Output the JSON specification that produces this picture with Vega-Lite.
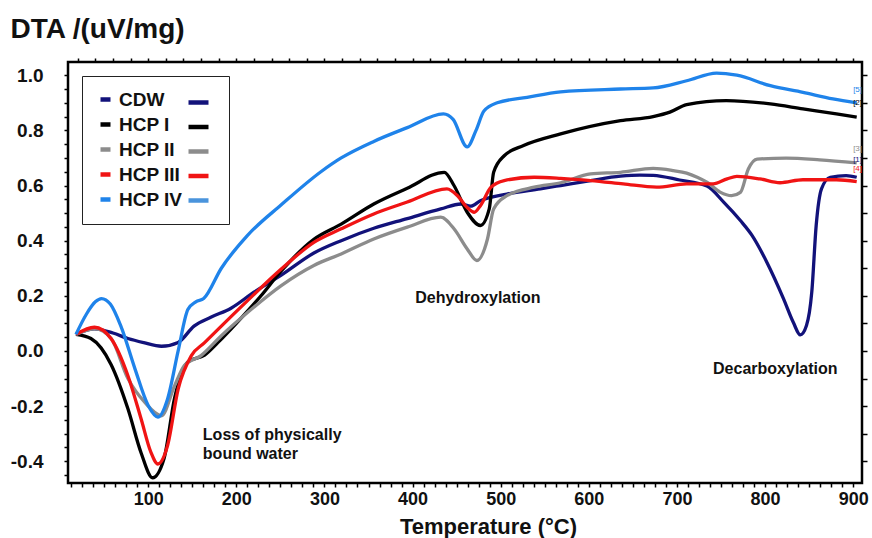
{
  "$schema": "https://vega.github.io/schema/vega-lite/v6.json",
  "width": 794,
  "height": 421,
  "autosize": {"type": "none"},
  "padding": {"left": 68, "top": 62, "right": 10, "bottom": 55},
  "background": "white",
  "config": {
    "view": {"stroke": "black", "strokeWidth": 2.5},
    "font": "Liberation Sans",
    "axis": {"grid": false, "domain": false, "tickColor": "black", "tickWidth": 1.5, "labelFont": "Liberation Sans", "labelFontWeight": "bold", "labelColor": "#111", "titleFont": "Liberation Sans", "titleColor": "#111"}
  },
  "datasets": {
    "dta": [
      {"series": "CDW", "t": 18, "v": 0.06}, {"series": "CDW", "t": 39, "v": 0.08}, {"series": "CDW", "t": 60, "v": 0.065}, {"series": "CDW", "t": 77, "v": 0.045}, {"series": "CDW", "t": 95, "v": 0.03}, {"series": "CDW", "t": 115, "v": 0.017}, {"series": "CDW", "t": 134, "v": 0.031}, {"series": "CDW", "t": 152, "v": 0.09}, {"series": "CDW", "t": 171, "v": 0.122}, {"series": "CDW", "t": 194, "v": 0.155}, {"series": "CDW", "t": 220, "v": 0.213}, {"series": "CDW", "t": 251, "v": 0.275}, {"series": "CDW", "t": 288, "v": 0.355}, {"series": "CDW", "t": 319, "v": 0.4}, {"series": "CDW", "t": 356, "v": 0.445}, {"series": "CDW", "t": 394, "v": 0.48}, {"series": "CDW", "t": 432, "v": 0.515}, {"series": "CDW", "t": 455, "v": 0.533}, {"series": "CDW", "t": 466, "v": 0.525}, {"series": "CDW", "t": 477, "v": 0.545}, {"series": "CDW", "t": 507, "v": 0.569}, {"series": "CDW", "t": 545, "v": 0.588}, {"series": "CDW", "t": 568, "v": 0.6}, {"series": "CDW", "t": 602, "v": 0.618}, {"series": "CDW", "t": 636, "v": 0.634}, {"series": "CDW", "t": 658, "v": 0.638}, {"series": "CDW", "t": 673, "v": 0.637}, {"series": "CDW", "t": 703, "v": 0.62}, {"series": "CDW", "t": 734, "v": 0.598}, {"series": "CDW", "t": 753, "v": 0.54}, {"series": "CDW", "t": 772, "v": 0.473}, {"series": "CDW", "t": 785, "v": 0.42}, {"series": "CDW", "t": 802, "v": 0.322}, {"series": "CDW", "t": 821, "v": 0.189}, {"series": "CDW", "t": 832, "v": 0.104}, {"series": "CDW", "t": 840, "v": 0.058}, {"series": "CDW", "t": 847, "v": 0.092}, {"series": "CDW", "t": 853, "v": 0.213}, {"series": "CDW", "t": 858, "v": 0.455}, {"series": "CDW", "t": 864, "v": 0.588}, {"series": "CDW", "t": 874, "v": 0.63}, {"series": "CDW", "t": 892, "v": 0.636}, {"series": "CDW", "t": 904, "v": 0.63},

      {"series": "HCP I", "t": 18, "v": 0.06}, {"series": "HCP I", "t": 35, "v": 0.045}, {"series": "HCP I", "t": 58, "v": -0.05}, {"series": "HCP I", "t": 77, "v": -0.21}, {"series": "HCP I", "t": 92, "v": -0.37}, {"series": "HCP I", "t": 105, "v": -0.46}, {"series": "HCP I", "t": 118, "v": -0.39}, {"series": "HCP I", "t": 130, "v": -0.17}, {"series": "HCP I", "t": 145, "v": -0.04}, {"series": "HCP I", "t": 164, "v": -0.015}, {"series": "HCP I", "t": 179, "v": 0.03}, {"series": "HCP I", "t": 200, "v": 0.1}, {"series": "HCP I", "t": 228, "v": 0.2}, {"series": "HCP I", "t": 251, "v": 0.29}, {"series": "HCP I", "t": 288, "v": 0.405}, {"series": "HCP I", "t": 319, "v": 0.46}, {"series": "HCP I", "t": 356, "v": 0.533}, {"series": "HCP I", "t": 394, "v": 0.59}, {"series": "HCP I", "t": 436, "v": 0.648}, {"series": "HCP I", "t": 447, "v": 0.6}, {"series": "HCP I", "t": 462, "v": 0.503}, {"series": "HCP I", "t": 477, "v": 0.455}, {"series": "HCP I", "t": 487, "v": 0.515}, {"series": "HCP I", "t": 492, "v": 0.648}, {"series": "HCP I", "t": 504, "v": 0.708}, {"series": "HCP I", "t": 526, "v": 0.745}, {"series": "HCP I", "t": 568, "v": 0.787}, {"series": "HCP I", "t": 636, "v": 0.835}, {"series": "HCP I", "t": 673, "v": 0.85}, {"series": "HCP I", "t": 692, "v": 0.866}, {"series": "HCP I", "t": 711, "v": 0.893}, {"series": "HCP I", "t": 756, "v": 0.908}, {"series": "HCP I", "t": 806, "v": 0.896}, {"series": "HCP I", "t": 843, "v": 0.878}, {"series": "HCP I", "t": 881, "v": 0.86}, {"series": "HCP I", "t": 904, "v": 0.848},

      {"series": "HCP II", "t": 18, "v": 0.06}, {"series": "HCP II", "t": 40, "v": 0.08}, {"series": "HCP II", "t": 58, "v": 0.045}, {"series": "HCP II", "t": 77, "v": -0.1}, {"series": "HCP II", "t": 96, "v": -0.186}, {"series": "HCP II", "t": 115, "v": -0.235}, {"series": "HCP II", "t": 130, "v": -0.126}, {"series": "HCP II", "t": 141, "v": -0.053}, {"series": "HCP II", "t": 160, "v": -0.017}, {"series": "HCP II", "t": 183, "v": 0.055}, {"series": "HCP II", "t": 213, "v": 0.14}, {"series": "HCP II", "t": 251, "v": 0.237}, {"series": "HCP II", "t": 288, "v": 0.31}, {"series": "HCP II", "t": 319, "v": 0.352}, {"series": "HCP II", "t": 356, "v": 0.406}, {"series": "HCP II", "t": 394, "v": 0.449}, {"series": "HCP II", "t": 432, "v": 0.485}, {"series": "HCP II", "t": 447, "v": 0.443}, {"series": "HCP II", "t": 462, "v": 0.37}, {"series": "HCP II", "t": 473, "v": 0.328}, {"series": "HCP II", "t": 485, "v": 0.406}, {"series": "HCP II", "t": 492, "v": 0.515}, {"series": "HCP II", "t": 507, "v": 0.563}, {"series": "HCP II", "t": 538, "v": 0.594}, {"series": "HCP II", "t": 568, "v": 0.61}, {"series": "HCP II", "t": 602, "v": 0.642}, {"series": "HCP II", "t": 636, "v": 0.648}, {"series": "HCP II", "t": 673, "v": 0.662}, {"series": "HCP II", "t": 696, "v": 0.654}, {"series": "HCP II", "t": 711, "v": 0.645}, {"series": "HCP II", "t": 723, "v": 0.63}, {"series": "HCP II", "t": 734, "v": 0.612}, {"series": "HCP II", "t": 749, "v": 0.576}, {"series": "HCP II", "t": 762, "v": 0.563}, {"series": "HCP II", "t": 772, "v": 0.575}, {"series": "HCP II", "t": 781, "v": 0.66}, {"series": "HCP II", "t": 791, "v": 0.696}, {"series": "HCP II", "t": 824, "v": 0.699}, {"series": "HCP II", "t": 862, "v": 0.693}, {"series": "HCP II", "t": 904, "v": 0.682},

      {"series": "HCP III", "t": 18, "v": 0.06}, {"series": "HCP III", "t": 39, "v": 0.086}, {"series": "HCP III", "t": 58, "v": 0.044}, {"series": "HCP III", "t": 77, "v": -0.09}, {"series": "HCP III", "t": 92, "v": -0.247}, {"series": "HCP III", "t": 103, "v": -0.367}, {"series": "HCP III", "t": 111, "v": -0.41}, {"series": "HCP III", "t": 122, "v": -0.343}, {"series": "HCP III", "t": 134, "v": -0.138}, {"series": "HCP III", "t": 149, "v": -0.017}, {"series": "HCP III", "t": 164, "v": 0.03}, {"series": "HCP III", "t": 183, "v": 0.09}, {"series": "HCP III", "t": 211, "v": 0.177}, {"series": "HCP III", "t": 251, "v": 0.297}, {"series": "HCP III", "t": 288, "v": 0.394}, {"series": "HCP III", "t": 319, "v": 0.443}, {"series": "HCP III", "t": 356, "v": 0.497}, {"series": "HCP III", "t": 394, "v": 0.54}, {"series": "HCP III", "t": 439, "v": 0.588}, {"series": "HCP III", "t": 451, "v": 0.563}, {"series": "HCP III", "t": 462, "v": 0.52}, {"series": "HCP III", "t": 470, "v": 0.503}, {"series": "HCP III", "t": 477, "v": 0.527}, {"series": "HCP III", "t": 489, "v": 0.594}, {"series": "HCP III", "t": 504, "v": 0.618}, {"series": "HCP III", "t": 538, "v": 0.63}, {"series": "HCP III", "t": 568, "v": 0.626}, {"series": "HCP III", "t": 602, "v": 0.618}, {"series": "HCP III", "t": 639, "v": 0.606}, {"series": "HCP III", "t": 677, "v": 0.594}, {"series": "HCP III", "t": 711, "v": 0.606}, {"series": "HCP III", "t": 741, "v": 0.606}, {"series": "HCP III", "t": 757, "v": 0.624}, {"series": "HCP III", "t": 768, "v": 0.633}, {"series": "HCP III", "t": 794, "v": 0.624}, {"series": "HCP III", "t": 817, "v": 0.61}, {"series": "HCP III", "t": 843, "v": 0.621}, {"series": "HCP III", "t": 881, "v": 0.621}, {"series": "HCP III", "t": 904, "v": 0.614},

      {"series": "HCP IV", "t": 18, "v": 0.06}, {"series": "HCP IV", "t": 30, "v": 0.134}, {"series": "HCP IV", "t": 40, "v": 0.178}, {"series": "HCP IV", "t": 47, "v": 0.19}, {"series": "HCP IV", "t": 57, "v": 0.17}, {"series": "HCP IV", "t": 69, "v": 0.09}, {"series": "HCP IV", "t": 85, "v": -0.065}, {"series": "HCP IV", "t": 100, "v": -0.198}, {"series": "HCP IV", "t": 111, "v": -0.24}, {"series": "HCP IV", "t": 122, "v": -0.174}, {"series": "HCP IV", "t": 134, "v": 0.0}, {"series": "HCP IV", "t": 145, "v": 0.15}, {"series": "HCP IV", "t": 154, "v": 0.178}, {"series": "HCP IV", "t": 163, "v": 0.19}, {"series": "HCP IV", "t": 183, "v": 0.3}, {"series": "HCP IV", "t": 213, "v": 0.42}, {"series": "HCP IV", "t": 251, "v": 0.53}, {"series": "HCP IV", "t": 296, "v": 0.65}, {"series": "HCP IV", "t": 319, "v": 0.7}, {"series": "HCP IV", "t": 356, "v": 0.76}, {"series": "HCP IV", "t": 394, "v": 0.81}, {"series": "HCP IV", "t": 435, "v": 0.86}, {"series": "HCP IV", "t": 446, "v": 0.84}, {"series": "HCP IV", "t": 462, "v": 0.74}, {"series": "HCP IV", "t": 472, "v": 0.8}, {"series": "HCP IV", "t": 481, "v": 0.87}, {"series": "HCP IV", "t": 496, "v": 0.9}, {"series": "HCP IV", "t": 530, "v": 0.92}, {"series": "HCP IV", "t": 568, "v": 0.94}, {"series": "HCP IV", "t": 636, "v": 0.95}, {"series": "HCP IV", "t": 673, "v": 0.954}, {"series": "HCP IV", "t": 711, "v": 0.98}, {"series": "HCP IV", "t": 745, "v": 1.008}, {"series": "HCP IV", "t": 768, "v": 1.0}, {"series": "HCP IV", "t": 806, "v": 0.962}, {"series": "HCP IV", "t": 843, "v": 0.938}, {"series": "HCP IV", "t": 877, "v": 0.914}, {"series": "HCP IV", "t": 904, "v": 0.9}
    ],
    "notes": [
      {"t": 162, "v": -0.323, "text": "Loss of physically\nbound water"},
      {"t": 403, "v": 0.174, "text": "Dehydroxylation"},
      {"t": 741, "v": -0.083, "text": "Decarboxylation"}
    ],
    "ends": [
      {"series": "HCP IV", "label": "[5]", "t": 905, "v": 0.947},
      {"series": "HCP I", "label": "[2]", "t": 905, "v": 0.9},
      {"series": "HCP II", "label": "[3]", "t": 905, "v": 0.733},
      {"series": "CDW", "label": "[1]", "t": 905, "v": 0.693},
      {"series": "HCP III", "label": "[4]", "t": 905, "v": 0.661}
    ]
  },
  "layer": [
    {
      "data": {"name": "dta"},
      "mark": {"type": "line", "interpolate": "monotone", "strokeWidth": 3.3},
      "encoding": {
        "x": {"field": "t", "type": "quantitative", "scale": {"domain": [9, 910], "nice": false, "zero": false},
          "axis": {"orient": "bottom", "values": [12.5,25,37.5,50,62.5,75,87.5,100,112.5,125,137.5,150,162.5,175,187.5,200,212.5,225,237.5,250,262.5,275,287.5,300,312.5,325,337.5,350,362.5,375,387.5,400,412.5,425,437.5,450,462.5,475,487.5,500,512.5,525,537.5,550,562.5,575,587.5,600,612.5,625,637.5,650,662.5,675,687.5,700,712.5,725,737.5,750,762.5,775,787.5,800,812.5,825,837.5,850,862.5,875,887.5,900],
            "labelExpr": "datum.value % 100 === 0 ? datum.label : ''", "labelFontSize": 18, "labelPadding": 3, "tickSize": 4, "labelOverlap": false, "labelFlush": false,
            "title": "Temperature (°C)", "titleFontSize": 22, "titleFontWeight": "bold", "titleX": 420, "titleY": 50, "titleBaseline": "alphabetic", "titleAlign": "center"}},
        "y": {"field": "v", "type": "quantitative", "scale": {"domain": [-0.479, 1.048], "nice": false, "zero": false},
          "axis": {"orient": "left", "values": [-0.45,-0.4,-0.35,-0.3,-0.25,-0.2,-0.15,-0.1,-0.05,0,0.05,0.1,0.15,0.2,0.25,0.3,0.35,0.4,0.45,0.5,0.55,0.6,0.65,0.7,0.75,0.8,0.85,0.9,0.95,1.0],
            "labelExpr": "abs(round(datum.value*100)) % 20 === 0 ? (datum.value < -0.001 ? '-' : '') + format(abs(datum.value), '.1f') : ''",
            "labelFontSize": 19, "labelPadding": 21, "tickSize": 4, "labelOverlap": false, "labelFlush": false,
            "title": "DTA /(uV/mg)", "titleAngle": 0, "titleAlign": "left", "titleBaseline": "alphabetic", "titleX": -58, "titleY": -25, "titleFontSize": 28, "titleFontWeight": "bold"}},
        "color": {"field": "series", "type": "nominal", "scale": {"range": ["#12127a", "#000000", "#8c8c8c", "#f01414", "#1f83ea"]},
          "legend": {"title": null, "orient": "none", "legendX": 14, "legendY": 14, "symbolType": "stroke", "symbolSize": 100, "symbolStrokeWidth": 4.5,
            "labelFontSize": 19, "labelFontWeight": "bold", "labelFont": "Liberation Sans", "labelColor": "#111", "labelOffset": 4, "padding": 14, "rowPadding": 5,
            "strokeColor": "#222", "fillColor": "white", "labelExpr": "datum.label + '\u00a0\u00a0\u00a0\u00a0\u00a0\u00a0\u200b'", "labelLimit": 300}}
      }
    },
    {
      "data": {"name": "dta"},
      "transform": [{"filter": "false"}],
      "mark": {"type": "line", "strokeWidth": 3},
      "encoding": {
        "x": {"field": "t", "type": "quantitative", "scale": {"domain": [9, 910], "nice": false, "zero": false},
          "axis": {"orient": "top", "values": [20,40,60,80,100,120,140,160,180,200,220,240,260,280,300,320,340,360,380,400,420,440,460,480,500,520,540,560,580,600,620,640,660,680,700,720,740,760,780,800,820,840,860,880,900], "labels": false, "tickSize": 4, "title": null}},
        "y": {"field": "v", "type": "quantitative", "scale": {"domain": [-0.479, 1.048], "nice": false, "zero": false},
          "axis": {"orient": "right", "values": [-0.4,-0.3,-0.2,-0.1,0,0.1,0.2,0.3,0.4,0.5,0.6,0.7,0.8,0.9,1.0], "labels": false, "tickSize": 5, "title": null}},
        "stroke": {"field": "series", "type": "nominal", "scale": {"domain": ["CDW", "HCP I", "HCP II", "HCP III", "HCP IV"], "range": ["#12127a", "#000000", "#8c8c8c", "#f01414", "#4a94dc"]},
          "legend": {"title": null, "orient": "none", "legendX": 118, "legendY": 28, "symbolType": "stroke", "symbolSize": 400, "symbolStrokeWidth": 4.5, "labelExpr": "' '", "labelFontSize": 19, "padding": 0, "rowPadding": 1.5, "labelOffset": 0}}
      }
    },
    {
      "data": {"name": "notes"},
      "mark": {"type": "text", "align": "left", "baseline": "alphabetic", "fontSize": 16, "fontWeight": "bold", "font": "Liberation Sans", "lineBreak": "\n", "lineHeight": 19, "color": "#111"},
      "encoding": {
        "x": {"field": "t", "type": "quantitative", "axis": null},
        "y": {"field": "v", "type": "quantitative", "axis": null},
        "text": {"field": "text"}
      }
    },
    {
      "data": {"name": "ends"},
      "mark": {"type": "text", "fontSize": 8, "align": "center", "baseline": "middle", "font": "Liberation Sans"},
      "encoding": {
        "x": {"field": "t", "type": "quantitative", "axis": null},
        "y": {"field": "v", "type": "quantitative", "axis": null},
        "text": {"field": "label"},
        "color": {"field": "series", "type": "nominal", "legend": null}
      }
    }
  ],
  "resolve": {"axis": {"x": "independent", "y": "independent"}, "scale": {"x": "shared", "y": "shared"}}
}
